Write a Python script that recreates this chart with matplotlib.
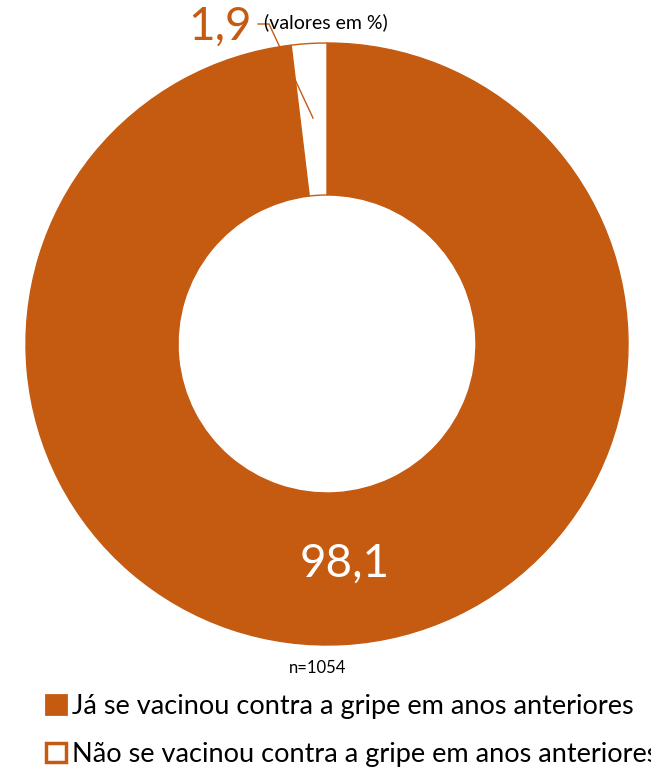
import matplotlib.pyplot as plt
from matplotlib.patches import Patch

labels = ["Já se vacinou contra a gripe em anos anteriores",
          "Não se vacinou contra a gripe em anos anteriores"]
values = [98.1, 1.9]
value_labels = ["98,1", "1,9"]
n_text = "n=1054"

ORANGE = "#C55A11"
W, H = 651, 769

plt.rcParams["font.family"] = ["Lato", "DejaVu Sans"]

fig = plt.figure(figsize=(W / 100, H / 100), dpi=100)
ax = fig.add_axes([0, 0, 1, 1])

# donut, centre and radius in pixel units of the figure
cx, cy, r = 327, H - 344, 301
wedges, _ = ax.pie(
    values,
    colors=[ORANGE, "white"],
    startangle=90,
    counterclock=False,
    radius=r,
    center=(cx, cy),
    wedgeprops=dict(width=r * 0.505, edgecolor=ORANGE, linewidth=1),
)
ax.set_xlim(0, W)
ax.set_ylim(0, H)
ax.set_aspect("equal")
ax.axis("off")

# big value labels
ax.text(345, H - 564, value_labels[0], color="white", fontsize=33,
        ha="center", va="center")
ax.text(220, H - 27, value_labels[1], color=ORANGE, fontsize=33,
        ha="center", va="center")
# leader line for the small slice
ax.plot([258, 269, 313], [H - 24, H - 24, H - 118], color=ORANGE, lw=1)
ax.text(264, H - 22, "(valores em %)", fontsize=14, ha="left", va="center")

ax.text(318, H - 668, n_text, fontsize=12, ha="center", va="center")

handles = [Patch(facecolor=ORANGE, edgecolor=ORANGE, linewidth=2),
           Patch(facecolor="white", edgecolor=ORANGE, linewidth=2.5)]
ax.legend(handles, labels, loc="upper left", bbox_to_anchor=(46 / W, 1 - 694 / H),
          frameon=False, fontsize=19.5, handlelength=0.72, handleheight=0.72,
          handletextpad=0.25, labelspacing=0.85, borderaxespad=0, borderpad=0)

fig.savefig("out.png", dpi=100)
